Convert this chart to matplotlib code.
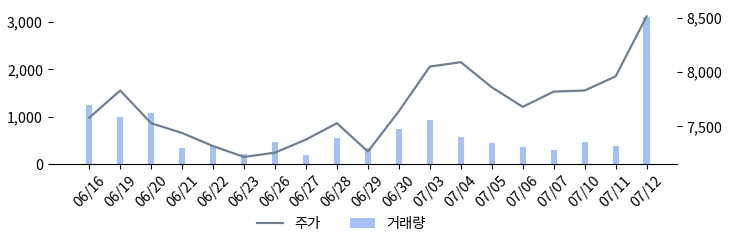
import matplotlib
matplotlib.use('Agg')
import matplotlib.pyplot as plt
from matplotlib.ticker import FuncFormatter

plt.rcParams['font.family'] = ['Noto Sans CJK KR', 'DejaVu Sans']

# 날짜
dates = ['06/16', '06/19', '06/20', '06/21', '06/22', '06/23', '06/26', '06/27', '06/28', '06/29',
         '06/30', '07/03', '07/04', '07/05', '07/06', '07/07', '07/10', '07/11', '07/12']
# 거래량
volume = [1250, 990, 1080, 340, 380, 210, 465, 190, 550, 330,
          740, 930, 570, 445, 360, 300, 465, 380, 3110]
# 주가
price = [7580, 7830, 7530, 7440, 7320, 7220, 7260, 7380, 7530, 7270,
         7640, 8050, 8090, 7860, 7680, 7820, 7830, 7960, 8510]

x = list(range(len(dates)))

fig = plt.figure(figsize=(7.35, 2.47), dpi=100)
ax = fig.add_axes([0.0717, 0.336, 0.8493, 0.626])
bars = ax.bar(x, volume, width=0.2, color='#a4c0f4', label='거래량')
ax.set_xlim(-1.18, 18.98)
ax.set_yticks([0, 1000, 2000, 3000])
ax.yaxis.set_major_formatter(FuncFormatter(lambda v, p: f'{int(v):,}'))
ax.set_xticks(x)
ax.set_xticklabels(dates, rotation=45)
for s in ['top', 'left', 'right']:
    ax.spines[s].set_visible(False)
ax.tick_params(labelsize=10.3)

ax2 = ax.twinx()
line, = ax2.plot(x, price, color='#708090', linewidth=1.6, label='주가')
ax2.set_yticks([7500, 8000, 8500])
ax2.yaxis.set_major_formatter(FuncFormatter(lambda v, p: f'{int(v):,}'))
for s in ['top', 'left', 'right', 'bottom']:
    ax2.spines[s].set_visible(False)
ax2.tick_params(labelsize=10.3)

fig.legend([line, bars], ['주가', '거래량'], loc='center', bbox_to_anchor=(0.465, 0.095),
           ncol=2, frameon=False, fontsize=10.3, columnspacing=2.0, handlelength=1.8)

plt.savefig('out.png')
